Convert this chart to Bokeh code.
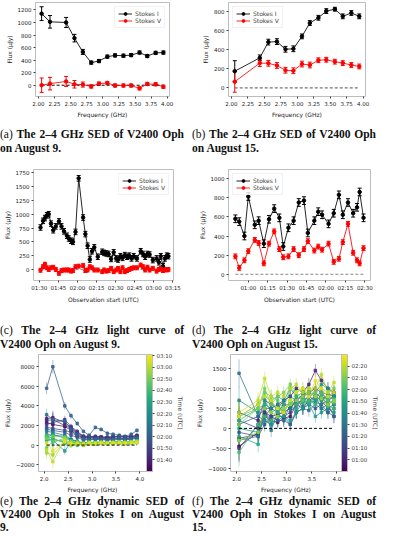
from bokeh.plotting import figure
from bokeh.models import (ColumnDataSource, Whisker, TeeHead, Range1d, FixedTicker, Legend,
                          LegendItem, ColorBar, LinearColorMapper, LinearAxis, Div)
from bokeh.layouts import column, row
from bokeh.palettes import Viridis256
from bokeh.transform import linear_cmap
from bokeh.embed import file_html
from bokeh.resources import INLINE

# ---------------- data ----------------
LEGEND_LABELS = ["Stokes I", "Stokes V"]

# (a) SED, August 9
A_FREQ = [2.05, 2.18, 2.43, 2.56, 2.69, 2.82, 2.94, 3.07, 3.19, 3.32, 3.44, 3.57, 3.69, 3.82, 3.94]
A_I = [1140, 1010, 1000, 750, 530, 360, 385, 455, 475, 470, 480, 520, 465, 515, 520]
A_I_ERR = [110, 100, 80, 60, 40, 25, 25, 25, 25, 25, 25, 25, 25, 25, 25]
A_V = [0, 25, 60, 15, 10, -20, 25, 35, -5, -5, -5, -50, 20, 15, -25]
A_V_ERR = [115, 100, 80, 60, 40, 25, 25, 25, 25, 25, 25, 25, 25, 25, 25]

# (b) SED, August 15
B_FREQ = [2.05, 2.43, 2.56, 2.69, 2.82, 2.94, 3.07, 3.19, 3.32, 3.44, 3.57, 3.69, 3.82, 3.94]
B_I = [175, 315, 480, 485, 405, 410, 540, 680, 735, 805, 825, 750, 785, 750]
B_I_ERR = [110, 30, 30, 30, 30, 30, 25, 25, 25, 25, 20, 25, 25, 25]
B_V = [65, 260, 258, 235, 185, 180, 250, 240, 290, 295, 275, 260, 240, 225]
B_V_ERR = [110, 35, 30, 30, 30, 30, 30, 30, 25, 25, 25, 25, 25, 25]

SED_XTICKS = [2.0, 2.25, 2.5, 2.75, 3.0, 3.25, 3.5, 3.75, 4.0]
SED_XLABELS = ["2.00", "2.25", "2.50", "2.75", "3.00", "3.25", "3.50", "3.75", "4.00"]
A_YTICKS = [0, 200, 400, 600, 800, 1000, 1200]
B_YTICKS = [0, 200, 400, 600, 800]

# (c) light curve, August 9 (minutes after 00:00 UTC)
C_T = [91, 93, 94.5, 96, 97.5, 99.25, 101, 103, 105.5, 107.5, 109.5, 111.75, 113.25, 115, 116.5,
       118.5, 121, 124.5, 126.25, 128, 129.75, 131.5, 133.25, 136, 139.5, 141, 142.75, 144.5,
       146.5, 148.5, 150.5, 152, 153.75, 155.5, 157.25, 159, 160.75, 162.5, 164.25, 166.75,
       169.75, 171.5, 173.25, 175, 176.75, 179.25, 182.25, 184, 185.5, 187.25, 188.75, 190.25, 191.5]
C_I = [760, 880, 930, 980, 1000, 830, 710, 780, 870, 780, 690, 610, 560, 520, 500,
       680, 1650, 940, 640, 430, 180, 330, 400, 230, 320, 300, 290, 280,
       190, 310, 200, 180, 240, 210, 260, 230, 250, 200, 240, 200,
       330, 280, 230, 280, 270, 170, 200, 130, 240, 60, 200, 250, 240]
C_V = [-15, 50, 95, 30, 0, 30, 40, 0, -70, -20, -10, -10, -10, -30, -20,
       50, 60, 70, -20, -10, 50, 30, -10, -10, -40, -10, -30, -20,
       20, -40, -10, 20, -40, 30, -40, -20, 0, 20, 30, 30,
       80, 50, -10, 40, -10, 20, -30, 0, 20, -20, 0, -10, 0]
C_I_ERR = 50
C_V_ERR = 35
C_XTICKS = [90, 105, 120, 135, 150, 165, 180, 195]
C_XLABELS = ["01:30", "01:45", "02:00", "02:15", "02:30", "02:45", "03:00", "03:15"]
C_YTICKS = [0, 250, 500, 750, 1000, 1250, 1500, 1750]

# (d) light curve, August 15
D_T = [50, 53, 57, 60, 65, 68, 72, 76, 80, 84, 87, 91, 95, 99, 103, 106, 111, 114, 117, 122,
       126, 130, 133, 137, 141, 144, 146, 149]
D_I = [580, 550, 400, 813, 517, 560, 320, 575, 686, 590, 290, 486, 560, 750, 770, 432, 560,
       654, 622, 527, 638, 830, 622, 750, 638, 700, 860, 590]
D_V = [187, 67, 146, 241, 359, 327, 114, 320, 448, 263, 178, 187, 263, 200, 263, 346, 248,
       289, 257, 320, 130, 162, 336, 527, 225, 146, 114, 273]
D_I_ERR = 40
D_V_ERR = 25
D_XTICKS = [60, 75, 90, 105, 120, 135, 150]
D_XLABELS = ["01:00", "01:15", "01:30", "01:45", "02:00", "02:15", "02:30"]
D_YTICKS = [0, 200, 400, 600, 800, 1000]

# (e) dynamic SED, August 9
E_FREQ = A_FREQ
E_ERR = [600, 700, 400, 300, 250, 200, 200, 200, 180, 180, 180, 180, 180, 200, 220]
E_TIMES = [93, 98, 103, 108, 113, 118, 121, 126, 131, 136, 141, 146, 151, 156, 161, 166, 171, 176, 181, 187]
E_VALS = [
    [2300, 2100, 1900, 1500, 1000, 750, 800, 700, 650, 650, 700, 700, 650, 700, 800],
    [2700, 2800, 2300, 1800, 1300, 900, 900, 850, 800, 800, 850, 900, 850, 900, 950],
    [2500, 2600, 2000, 1700, 1200, 800, 850, 800, 800, 750, 800, 850, 800, 850, 900],
    [2100, 2300, 2600, 1900, 1400, 900, 800, 900, 850, 800, 850, 900, 800, 850, 1000],
    [1800, 1700, 1500, 1300, 900, 700, 600, 700, 650, 600, 600, 700, 650, 700, 800],
    [1600, 1500, 1300, 1000, 800, 500, 600, 550, 600, 550, 500, 600, 550, 600, 700],
    [5800, 8000, 4000, 3000, 2200, 1400, 1000, 1800, 1600, 1200, 1100, 1000, 900, 1100, 1500],
    [3100, 2600, 2400, 1600, 1100, 600, 500, 600, 550, 500, 600, 650, 550, 600, 700],
    [1400, 1300, 1000, 600, 400, 200, 300, 250, 300, 250, 300, 350, 300, 350, 400],
    [1100, 1000, 900, 500, 300, 200, 200, 300, 250, 200, 300, 300, 250, 300, 350],
    [800, 1100, 700, 500, 400, 100, 300, 200, 300, 250, 250, 300, 200, 300, 400],
    [600, 500, -600, 300, 200, 0, 200, 100, 250, 200, 200, 250, 200, 250, 300],
    [900, 700, 200, 200, 0, 100, 200, 150, 200, 150, 200, 250, 200, 200, 300],
    [400, 600, 300, 300, 200, 50, 250, 200, 250, 200, 250, 300, 250, 300, 350],
    [1000, 300, 700, 0, 100, 0, 150, 100, 200, 150, 150, 200, 150, 200, 250],
    [-300, 400, 500, 200, 300, 100, 200, 150, 250, 200, 200, 300, 250, 250, 350],
    [700, 900, 800, 400, 300, 200, 300, 250, 300, 250, 300, 350, 300, 350, 400],
    [-800, -1000, 300, 100, 200, 100, 200, 200, 250, 200, 250, 250, 200, 300, 300],
    [-500, -1700, 600, 0, 100, 0, 150, 100, 200, 100, 150, 200, 150, 200, 250],
    [200, -600, 400, 200, 100, 100, 200, 150, 200, 150, 200, 250, 200, 250, 300],
]
E_XTICKS = [2.0, 2.5, 3.0, 3.5, 4.0]
E_XLABELS = ["2.0", "2.5", "3.0", "3.5", "4.0"]
E_YTICKS = [-2000, 0, 2000, 4000, 6000, 8000]
E_YLABELS = ["\u22122000", "0", "2000", "4000", "6000", "8000"]
E_CB_RANGE = [90, 191]
E_CB_TICKS = [100, 110, 120, 130, 140, 150, 160, 170, 180, 190]
E_CB_LABELS = ["01:40", "01:50", "02:00", "02:10", "02:20", "02:30", "02:40", "02:50", "03:00", "03:10"]

# (f) dynamic SED, August 15
F_FREQ = B_FREQ
F_ERR = [350, 200, 180, 170, 160, 160, 160, 160, 160, 160, 160, 160, 160, 170]
F_TIMES = [50, 55, 60, 65, 70, 75, 80, 85, 90, 95, 100, 105, 110, 115, 120, 125, 130, 135, 140, 146]
F_VALS = [
    [-450, -100, 400, 300, 350, 400, 500, 700, 800, 900, 1000, 900, 700, 800],
    [-250, -150, 300, 200, 150, 250, 300, 600, 500, 700, 800, 700, 500, 600],
    [400, 200, 700, 600, 500, 700, 800, 1000, 900, 1100, 1450, 1200, 1000, 900],
    [-500, 100, 300, 500, 400, 600, 500, 700, 650, 800, 700, 800, 600, 300],
    [200, 0, 400, 200, 300, 300, 400, 600, 700, 800, 900, 750, 800, 900],
    [-100, -200, 100, 300, 200, 200, 100, 400, 500, 600, 500, 600, 400, 500],
    [100, 300, 500, 500, 600, 700, 800, 700, 850, 900, 800, 900, 850, 800],
    [1380, 300, 200, 100, 200, 300, 100, 400, 500, 450, 600, 500, 400, 300],
    [-300, -200, 500, -50, 400, 200, 600, 400, 700, 600, 800, 500, 600, 700],
    [700, 400, 600, 500, 600, 400, 500, 700, 550, 700, 650, 600, 700, 800],
    [300, 600, 800, 700, 800, 700, 1000, 800, 900, 800, 900, 1100, 1000, 850],
    [0, -100, 200, 100, 300, 300, 200, 400, 500, 600, 300, 400, 500, 400],
    [-200, -400, 700, 400, 500, 400, 700, 500, 800, 600, 700, 800, 700, 600],
    [200, 500, 600, 700, 400, 600, 600, 800, 700, 650, 800, 700, 800, 750],
    [-600, 100, 300, 200, 500, 400, 700, 600, 650, 700, 600, 800, 550, 500],
    [300, 500, 900, 800, 700, 500, 1000, 900, 700, 1000, 800, 900, 700, 650],
    [100, 500, 1000, 600, 800, 900, 1100, 900, 1000, 800, 900, 1000, 900, 1000],
    [-300, -100, 500, 400, 300, 500, 600, 700, 800, 900, 800, 750, 600, 700],
    [400, 700, 1250, 800, 900, 800, 1000, 1100, 900, 1000, 1000, 1350, 900, 1150],
    [300, 600, 800, 700, 500, 400, 700, 900, 1000, 800, 1200, 1000, 800, 900],
]
F_YTICKS = [-1000, -500, 0, 500, 1000, 1500]
F_YLABELS = ["\u22121000", "\u2212500", "0", "500", "1000", "1500"]
F_CB_RANGE = [50, 150]
F_CB_TICKS = [60, 70, 80, 90, 100, 110, 120, 130, 140]
F_CB_LABELS = ["01:00", "01:10", "01:20", "01:30", "01:40", "01:50", "02:00", "02:10", "02:20"]

CAPTIONS = [
    ("(a)", ["The 2\u20134 GHz SED of V2400 Oph", "on August 9."]),
    ("(b)", ["The 2\u20134 GHz SED of V2400 Oph", "on August 15."]),
    ("(c)", ["The 2\u20134 GHz light curve of", "V2400 Oph on August 9."]),
    ("(d)", ["The 2\u20134 GHz light curve of", "V2400 Oph on August 15."]),
    ("(e)", ["The 2\u20134 GHz dynamic SED of", "V2400 Oph in Stokes I on August", "9."]),
    ("(f)", ["The 2\u20134 GHz dynamic SED of", "V2400 Oph in Stokes I on August", "15."]),
]

FREQ_LABEL = "Frequency (GHz)"
FLUX_LABEL = "Flux (\u03bcJy)"
TIME_LABEL = "Observation start (UTC)"
CB_LABEL = "Time (UTC)"

# ---------------- style ----------------
FONT = "DejaVu Sans"
TICK_FS = "5.5px"
LAB_FS = "6px"
FRAME = "#bdbdbd"


def base_fig(w, h, xr, yr, left, right, top, bottom):
    p = figure(width=w, height=h, x_range=Range1d(*xr), y_range=Range1d(*yr),
               output_backend="svg", toolbar_location=None,
               min_border_left=left, min_border_right=right,
               min_border_top=top, min_border_bottom=bottom)
    p.grid.visible = False
    p.outline_line_color = FRAME
    p.outline_line_width = 1
    for ax in (p.xaxis[0], p.yaxis[0]):
        ax.axis_line_color = None
        ax.major_tick_line_color = "#444444"
        ax.major_tick_out = 2
        ax.major_tick_in = 0
        ax.minor_tick_line_color = None
        ax.major_label_text_font = FONT
        ax.major_label_text_font_size = TICK_FS
        ax.major_label_text_color = "#222222"
        ax.axis_label_text_font = FONT
        ax.axis_label_text_font_size = LAB_FS
        ax.axis_label_text_font_style = "normal"
        ax.axis_label_text_color = "#222222"
        ax.axis_label_standoff = 2
        ax.major_label_standoff = 2
    return p


def set_ticks(axis, ticks, labels):
    axis.ticker = FixedTicker(ticks=ticks)
    axis.major_label_overrides = {t: l for t, l in zip(ticks, labels)}


def series(p, x, y, err, color):
    if isinstance(err, (int, float)):
        err = [err for _ in y]
    src = ColumnDataSource(dict(x=x, y=y, lo=[v - e for v, e in zip(y, err)],
                                hi=[v + e for v, e in zip(y, err)]))
    w = Whisker(source=src, base="x", lower="lo", upper="hi", line_color=color, line_width=1,
                upper_head=TeeHead(size=4, line_color=color, line_width=1),
                lower_head=TeeHead(size=4, line_color=color, line_width=1))
    p.add_layout(w)
    ln = p.line("x", "y", source=src, line_color=color, line_width=1, line_alpha=0.85)
    sc = p.scatter("x", "y", source=src, size=3.5, fill_color=color, line_color=color)
    return ln, sc


def add_legend(p, items, loc):
    leg = Legend(items=[LegendItem(label=lab, renderers=r) for lab, r in items], location=loc)
    leg.label_text_font = FONT
    leg.label_text_font_size = "6px"
    leg.glyph_width = 14
    leg.glyph_height = 7
    leg.label_height = 7
    leg.spacing = 0
    leg.padding = 3
    leg.margin = 4
    leg.label_standoff = 3
    leg.border_line_color = "#e4e4e4"
    leg.background_fill_alpha = 0.8
    p.add_layout(leg)


def stokes_panel(w, h, xr, yr, borders, x, I, Ierr, V, Verr, zero_color, loc):
    p = base_fig(w, h, xr, yr, *borders)
    p.line([x[0], x[-1]], [0, 0], line_dash="3 2", line_color=zero_color, line_width=1)
    rI = series(p, x, I, Ierr, "black")
    rV = series(p, x, V, Verr, "red")
    add_legend(p, [(LEGEND_LABELS[0], list(rI)), (LEGEND_LABELS[1], list(rV))], loc)
    return p


def dyn_panel(w, h, xr, yr, borders, freq, times, vals, errs, cb_range, cb_ticks, cb_labels):
    p = base_fig(w, h, xr, yr, *borders)
    cmap = linear_cmap("t", Viridis256, cb_range[0], cb_range[1])
    xs, ys, ts = [], [], []
    px, py, plo, phi, pt = [], [], [], [], []
    for t, row_vals in zip(times, vals):
        xs.append(list(freq))
        ys.append(list(row_vals))
        ts.append(t)
        for f, v, e in zip(freq, row_vals, errs):
            px.append(f); py.append(v); plo.append(v - e); phi.append(v + e); pt.append(t)
    psrc = ColumnDataSource(dict(x=px, y=py, lo=plo, hi=phi, t=pt))
    lsrc = ColumnDataSource(dict(xs=xs, ys=ys, t=ts))
    p.segment(x0="x", y0="lo", x1="x", y1="hi", source=psrc, line_color=cmap, line_alpha=0.4, line_width=1)
    p.multi_line("xs", "ys", source=lsrc, line_color=cmap, line_alpha=0.75, line_width=1)
    p.scatter("x", "y", source=psrc, size=2.5, marker="square", fill_color=cmap, line_color=cmap, alpha=0.8)
    p.line([freq[0], freq[-1]], [0, 0], line_dash="3 2", line_color="black", line_width=1)
    mapper = LinearColorMapper(palette=Viridis256, low=cb_range[0], high=cb_range[1])
    cb = ColorBar(color_mapper=mapper, ticker=FixedTicker(ticks=cb_ticks),
                  major_label_overrides={t: l for t, l in zip(cb_ticks, cb_labels)},
                  width=6, margin=5, padding=0, label_standoff=2,
                  major_label_text_font=FONT, major_label_text_font_size=TICK_FS,
                  major_tick_out=2, major_tick_in=0, major_tick_line_color="#444444",
                  bar_line_color=FRAME, background_fill_alpha=0)
    p.add_layout(cb, "right")
    tax = LinearAxis(axis_label=CB_LABEL, ticker=FixedTicker(ticks=[]), axis_line_color=None,
                     major_tick_line_color=None, minor_tick_line_color=None,
                     major_label_text_font_size="0px", axis_label_text_font=FONT,
                     axis_label_text_font_size=LAB_FS, axis_label_text_font_style="normal",
                     axis_label_standoff=1)
    p.add_layout(tax, "right")
    return p


def caption(tag, lines, w, h, pad, lh):
    parts = []
    for i, ln in enumerate(lines):
        text = (f'<span style="font-weight:normal">{tag}</span> ' + ln) if i == 0 else ln
        last = i == len(lines) - 1
        align = "text-align:left;" if last else "text-align:justify;text-align-last:justify;"
        parts.append(f'<div style="{align}">{text}</div>')
    html = (f'<div style="width:{w - 8}px;padding-top:{pad}px;font-family:\'Liberation Serif\',serif;'
            f'font-weight:bold;font-size:11.5px;line-height:{lh}px;color:#111;">' + "".join(parts) + "</div>")
    return Div(text=html, width=w, height=h, margin=0)


W = 192
# ---- row 1 ----
pa = stokes_panel(W, 120, (1.955, 4.035), (-180, 1318), (35, 23, 2, 20),
                  A_FREQ, A_I, A_I_ERR, A_V, A_V_ERR, "black", "top_right")
pb = stokes_panel(W, 120, (1.955, 4.035), (-90, 895), (36, 19, 2, 20),
                  B_FREQ, B_I, B_I_ERR, B_V, B_V_ERR, "#555555", "top_left")
for p, yt in ((pa, A_YTICKS), (pb, B_YTICKS)):
    set_ticks(p.xaxis[0], SED_XTICKS, SED_XLABELS)
    set_ticks(p.yaxis[0], yt, [str(v) for v in yt])
    p.xaxis[0].axis_label = FREQ_LABEL
    p.yaxis[0].axis_label = FLUX_LABEL

# ---- row 2 ----
pc = stokes_panel(W, 145, (85.5, 195.5), (-200, 1810), (32, 19, 9, 19),
                  C_T, C_I, C_I_ERR, C_V, C_V_ERR, "#888888", "top_right")
pd_ = stokes_panel(W, 145, (44.7, 154.4), (-65, 1095), (36, 14, 9, 19),
                   D_T, D_I, D_I_ERR, D_V, D_V_ERR, "#888888", "top_left")
set_ticks(pc.xaxis[0], C_XTICKS, C_XLABELS)
set_ticks(pc.yaxis[0], C_YTICKS, [str(v) for v in C_YTICKS])
set_ticks(pd_.xaxis[0], D_XTICKS, D_XLABELS)
set_ticks(pd_.yaxis[0], D_YTICKS, [str(v) for v in D_YTICKS])
for p in (pc, pd_):
    p.xaxis[0].axis_label = TIME_LABEL
    p.yaxis[0].axis_label = FLUX_LABEL

# ---- row 3 ----
pe = dyn_panel(W, 144, (1.88, 4.14), (-2700, 9250), (29, 46, 3, 20),
               E_FREQ, E_TIMES, E_VALS, E_ERR, E_CB_RANGE, E_CB_TICKS, E_CB_LABELS)
pf = dyn_panel(W, 144, (1.88, 4.09), (-1080, 1850), (31, 43, 3, 20),
               F_FREQ, F_TIMES, F_VALS, F_ERR, F_CB_RANGE, F_CB_TICKS, F_CB_LABELS)
set_ticks(pe.xaxis[0], E_XTICKS, E_XLABELS)
set_ticks(pe.yaxis[0], E_YTICKS, E_YLABELS)
set_ticks(pf.xaxis[0], E_XTICKS, E_XLABELS)
set_ticks(pf.yaxis[0], F_YTICKS, F_YLABELS)
for p in (pe, pf):
    p.xaxis[0].axis_label = FREQ_LABEL
    p.yaxis[0].axis_label = FLUX_LABEL

caps = [caption(tag, lines, W, h, pad, lh) for (tag, lines), (h, pad, lh) in
        zip(CAPTIONS, [(40, 8, 13.5), (40, 8, 13.5), (46, 19, 13.5), (46, 19, 13.5),
                       (39, 0, 13), (39, 0, 13)])]

layout = column(
    row(pa, pb), row(caps[0], caps[1]),
    row(pc, pd_), row(caps[2], caps[3]),
    row(pe, pf), row(caps[4], caps[5]),
)

open("out.html", "w").write(file_html(layout, INLINE))
